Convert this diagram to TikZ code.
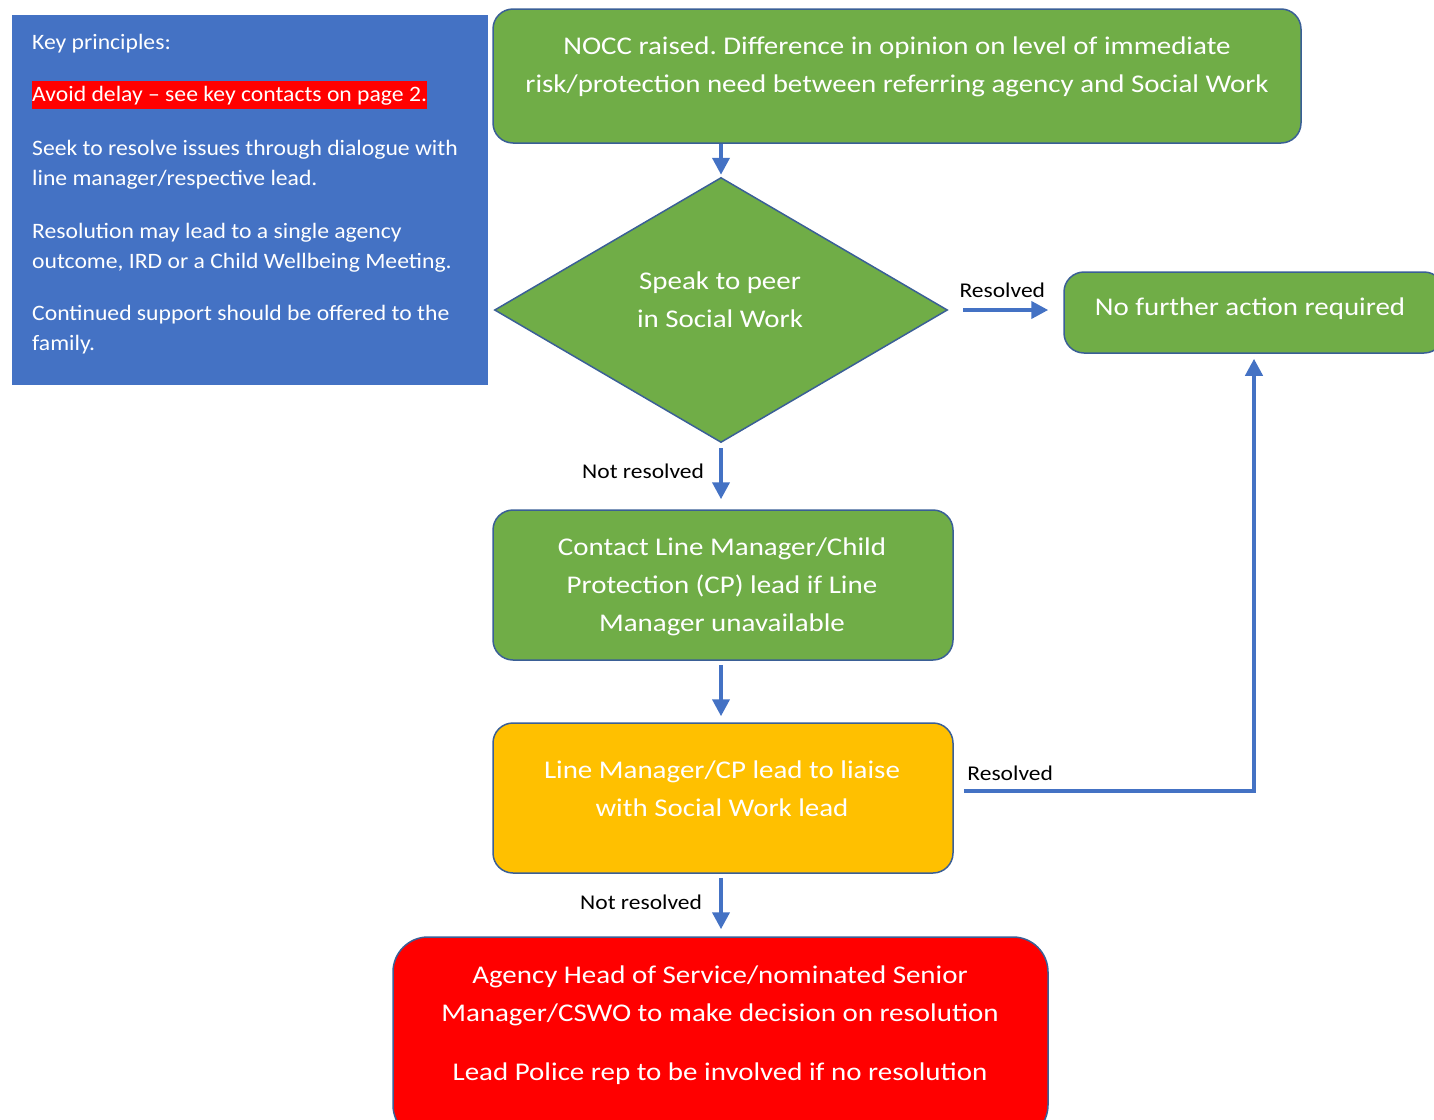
\documentclass[tikz,border=0pt]{standalone}
\usepackage{fontspec}
\setmainfont{Carlito}
\newfontfamily\bigfont{Carlito}[FakeStretch=1.135]
\newfontfamily\smallfont{Carlito}[FakeStretch=1.075]
\newfontfamily\lblfont{Carlito}[FakeStretch=1.12]
\usetikzlibrary{shapes.geometric,arrows.meta}
\definecolor{ogreen}{HTML}{70AD47}
\definecolor{oblue}{HTML}{4472C4}
\definecolor{oedge}{HTML}{3A5F96}
\definecolor{oyellow}{HTML}{FFC000}
\definecolor{ored}{HTML}{FF0000}
\frenchspacing
\tikzset{
  box/.style={draw=oedge, line width=1.5pt, rounded corners=20pt, inner sep=0pt},
  boxtxt/.style={text=white, align=center, inner sep=0pt, font=\bigfont\fontsize{25.5}{38}\selectfont},
  flow/.style={draw=oblue, line width=4pt, -{Triangle[length=17pt,width=17pt]}},
  lbl/.style={text=black, inner sep=0pt, font=\lblfont\fontsize{21}{24}\selectfont},
}
\begin{document}
\begin{tikzpicture}[x=1pt,y=-1pt]
\useasboundingbox (0,0) rectangle (1434,1119);
\clip (0,0) rectangle (1434,1119);

% key principles panel
\node[fill=oblue, minimum width=476pt, minimum height=370pt, inner sep=0pt, anchor=north west] (keyp) at (12,15) {};
\node[anchor=north west, inner sep=0pt, text=white, align=left, font=\smallfont\fontsize{22}{30.5}\selectfont] (keytxt) at (32,34)
 {Key principles:\\[22pt]
  {\setlength{\fboxsep}{0pt}\colorbox{ored}{\rule[-7pt]{0pt}{28pt}Avoid delay – see key contacts on page 2.}}\\[23pt]
  Seek to resolve issues through dialogue with\\
  line manager/respective lead.\\[22pt]
  Resolution may lead to a single agency\\
  outcome, IRD or a Child Wellbeing Meeting.\\[21pt]
  Continued support should be offered to the\\
  family.};

% boxes
\node[box, fill=ogreen, minimum width=808pt, minimum height=134pt] (top) at (897,76) {};
\node[boxtxt] (toptxt) at (897,67) {NOCC raised. Difference in opinion on level of immediate\\risk/protection need between referring agency and Social Work};

\node[diamond, draw=oedge, line width=1.5pt, fill=ogreen, minimum width=453pt, minimum height=265pt, inner sep=0pt] (dia) at (721,310) {};
\node[boxtxt] (diatxt) at (720,299.5) {Speak to peer\\in Social Work};

\node[box, fill=ogreen, minimum width=380pt, minimum height=81pt] (nf) at (1254,312.5) {};
\node[boxtxt] (nftxt) at (1250,309) {No further action required};

\node[box, fill=ogreen, minimum width=460pt, minimum height=150pt] (contact) at (723,585) {};
\node[boxtxt] (contacttxt) at (722,587) {Contact Line Manager/Child\\Protection (CP) lead if Line\\Manager unavailable};

\node[box, fill=oyellow, minimum width=460pt, minimum height=150pt] (yel) at (723,798) {};
\node[boxtxt] (yeltxt) at (722,789) {Line Manager/CP lead to liaise\\with Social Work lead};

\node[box, fill=ored, rounded corners=35pt, minimum width=655pt, minimum height=203pt] (red) at (720.5,1038.5) {};
\node[boxtxt] (redtxt) at (720,1025) {Agency Head of Service/nominated Senior\\Manager/CSWO to make decision on resolution\\[21pt]Lead Police rep to be involved if no resolution};

% connectors
\draw[flow, shorten >=2pt] (dia.north |- top.south) -- (dia.north);
\draw[flow, shorten <=15pt, shorten >=15pt] (dia.east) -- (dia.east -| nf.west)
  node[lbl, pos=0.47, above=10pt] {Resolved};
\draw[flow, shorten <=5pt, shorten >=10pt] (dia.south) -- (dia.south |- contact.north)
  node[lbl, pos=0.42, left=15pt] {Not resolved};
\draw[flow, shorten <=4pt, shorten >=6pt] (dia.south |- contact.south) -- (dia.south |- yel.north);
\draw[flow, shorten <=4pt, shorten >=7pt] (dia.south |- yel.south) -- (dia.south |- red.north)
  node[lbl, pos=0.45, left=17pt] {Not resolved};
\draw[flow, shorten >=5pt] ([xshift=10pt,yshift=7pt]yel.east) -| (nf.south)
  node[lbl, pos=0.08, above=8pt] {Resolved};
\end{tikzpicture}
\end{document}
